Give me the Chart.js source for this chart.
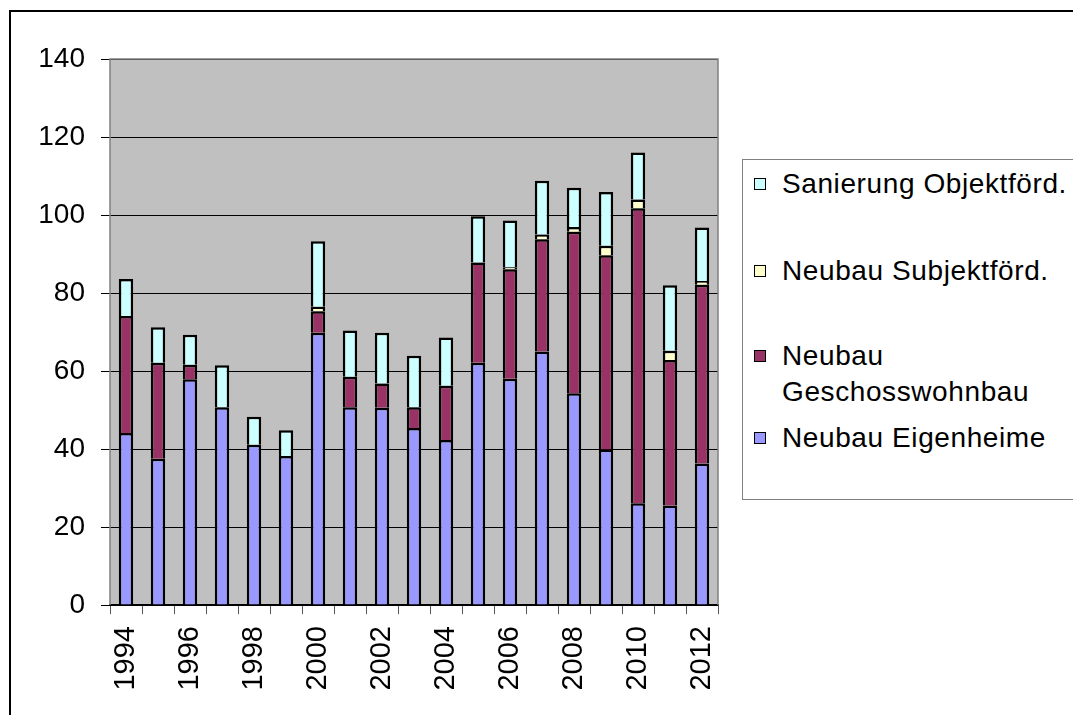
<!DOCTYPE html>
<html>
<head>
<meta charset="utf-8">
<script src="https://cdn.jsdelivr.net/npm/chart.js@4/dist/chart.umd.min.js"></script>
<style>
    html, body { margin: 0; padding: 0; background: #fff; overflow: hidden; }
    #wrap { position: relative; width: 1073px; height: 715px; }
    #myChart { position: absolute; left: 0; top: 0; }
    #frame { position: absolute; left: 9px; top: 10px; width: 1200px; height: 900px;
        border-left: 2px solid #000; border-top: 2px solid #000; pointer-events: none; }
    #legend { position: absolute; left: 742px; top: 159px; width: 400px; height: 339px;
        border: 1px solid #808080; background: #fff;
        font-family: 'Liberation Sans', Arial, sans-serif; font-size: 28px; color: #000; }
    #legend .item { position: absolute; left: 0; }
    #legend .box { position: absolute; left: 11px; top: 12px; width: 10px; height: 10px; border: 1.5px solid #000; }
    #legend .text { position: absolute; left: 39px; top: 0; white-space: nowrap; line-height: 36px; letter-spacing: 0.6px; }
</style>
</head>
<body>
<div id="wrap">
    <canvas id="myChart" width="1073" height="715"></canvas>
    <div id="legend"></div>
    <div id="frame"></div>
</div>
<script>
const years = ['1994', '1995', '1996', '1997', '1998', '1999', '2000', '2001', '2002', '2003',
    '2004', '2005', '2006', '2007', '2008', '2009', '2010', '2011', '2012'];
const eigenheime = [44.1, 37.5, 57.9, 50.7, 41.1, 38.2, 69.8, 50.7, 50.6, 45.4,
    42.3, 62.1, 58.0, 65.0, 54.3, 39.9, 26.1, 25.5, 36.3];
const geschosswohnbau = [30.0, 24.6, 3.7, 0, 0, 0, 5.5, 7.8, 6.2, 5.3,
    13.9, 25.7, 28.1, 28.8, 41.4, 49.8, 75.6, 37.3, 45.8];
const subjektfoerd = [0, 0, 0, 0, 0, 0, 1.2, 0, 0, 0,
    0, 0, 0.5, 1.2, 1.2, 2.4, 2.3, 2.4, 1.0];
const sanierung = [9.5, 9.1, 7.7, 10.8, 7.2, 6.6, 16.8, 11.9, 13.0, 13.2,
    12.4, 11.9, 12.0, 13.8, 10.1, 13.8, 12.0, 16.8, 13.7];
const yTicks = [0, 20, 40, 60, 80, 100, 120, 140];

const family = "'Liberation Sans', Arial, sans-serif";

// grey plot area with a grey frame (bottom edge stays black)
const plotArea = {
    id: 'plotArea',
    beforeDraw(chart) {
        const { ctx, chartArea: a } = chart;
        ctx.save();
        ctx.fillStyle = '#c0c0c0';
        ctx.fillRect(a.left, a.top, a.right - a.left, a.bottom - a.top);
        ctx.restore();
    },
    afterDatasetsDraw(chart) {
        const { ctx, chartArea: a } = chart;
        ctx.save();
        ctx.strokeStyle = '#808080';
        ctx.lineWidth = 1.5;
        ctx.beginPath();
        ctx.moveTo(a.left, a.bottom);
        ctx.lineTo(a.left, a.top);
        ctx.lineTo(a.right, a.top);
        ctx.lineTo(a.right, a.bottom);
        ctx.stroke();
        ctx.restore();
    }
};

function bar(label, data, color) {
    return {
        label: label,
        // empty segments are left out so they draw no outline
        data: data.map(v => (v === 0 ? null : v)),
        backgroundColor: color,
        borderColor: '#000',
        borderWidth: 2.5,
        // bottom edge comes from the segment below (or the axis)
        borderSkipped: 'start',
        barPercentage: 0.45,
        categoryPercentage: 1
    };
}

const myChart = new Chart(document.getElementById('myChart'), {
    type: 'bar',
    data: {
        labels: years,
        datasets: [
            bar('Neubau Eigenheime', eigenheime, '#9999ff'),
            bar(['Neubau', 'Geschosswohnbau'], geschosswohnbau, '#993366'),
            bar('Neubau Subjektförd.', subjektfoerd, '#ffffcc'),
            bar('Sanierung Objektförd.', sanierung, '#ccffff')
        ]
    },
    options: {
        responsive: false,
        animation: false,
        layout: { padding: { left: 0, top: 59, right: 355, bottom: 0 } },
        plugins: { legend: { display: false }, tooltip: { enabled: false } },
        scales: {
            x: {
                stacked: true,
                grid: { offset: true, drawOnChartArea: false, color: '#555', tickLength: 9, lineWidth: 1 },
                border: { color: '#000', width: 1.5 },
                ticks: {
                    font: { family: family, size: 29 }, color: '#000', padding: 12,
                    autoSkip: false, minRotation: 90, maxRotation: 90,
                    callback: (v, i) => (i % 2 === 0 ? years[i] : '')
                },
                afterFit: (s) => { s.height = 110; }
            },
            y: {
                stacked: true,
                min: 0,
                max: 140,
                afterBuildTicks: (s) => { s.ticks = yTicks.map(v => ({ value: v })); },
                grid: { color: '#000', lineWidth: 1, tickLength: 9 },
                border: { display: false },
                ticks: { font: { family: family, size: 28 }, color: '#000', padding: 16 },
                afterFit: (s) => { s.width = 110; }
            }
        }
    },
    plugins: [plotArea]
});

// legend, top entry = last dataset
const legend = document.getElementById('legend');
const itemTops = [6, 93, 178, 260];
myChart.data.datasets.slice().reverse().forEach((ds, i) => {
    const item = document.createElement('div');
    item.className = 'item';
    item.style.top = itemTops[i] + 'px';
    const box = document.createElement('div');
    box.className = 'box';
    box.style.background = ds.backgroundColor;
    const text = document.createElement('div');
    text.className = 'text';
    text.innerHTML = [].concat(ds.label).join('<br>');
    item.appendChild(box);
    item.appendChild(text);
    legend.appendChild(item);
});
</script>
</body>
</html>
